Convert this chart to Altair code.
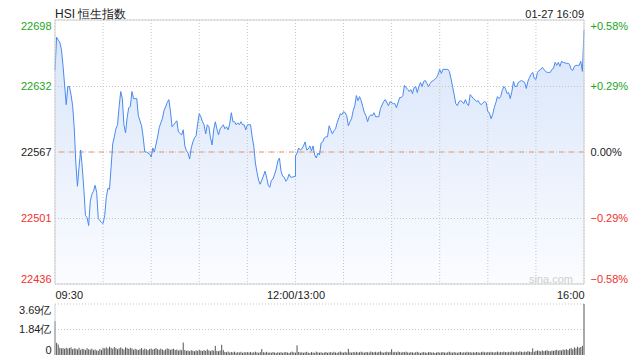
import altair as alt
import pandas as pd

PREV_CLOSE = 22567
Y_TICKS = [22436, 22501, 22567, 22632, 22698]
VOL_TICKS = [0, 1.84, 3.69]
X_GRID = [0, 30, 60, 90, 120, 150, 180, 210, 240, 270, 300, 330]
TITLE = "HSI 恒生指数"
STAMP = "01-27 16:09"
WATERMARK = "sina.com"

AM_TIMES = [
    "09:30", "09:31", "09:32", "09:33", "09:34", "09:35", "09:37", "09:38", "09:39", "09:40",
    "09:41", "09:42", "09:43", "09:44", "09:45", "09:46", "09:47", "09:48", "09:49", "09:50",
    "09:51", "09:52", "09:53", "09:54", "09:55", "09:56", "09:57", "09:58", "09:59", "10:00",
    "10:01", "10:02", "10:03", "10:04", "10:05", "10:06", "10:07", "10:08", "10:09", "10:10",
    "10:11", "10:12", "10:13", "10:14", "10:15", "10:16", "10:17", "10:18", "10:19", "10:20",
    "10:21", "10:22", "10:23", "10:24", "10:25", "10:26", "10:27", "10:29", "10:30", "10:31",
    "10:32", "10:34", "10:35", "10:36", "10:37", "10:38", "10:40", "10:41", "10:42", "10:43",
    "10:44", "10:45", "10:46", "10:47", "10:49", "10:50", "10:51", "10:52", "10:53", "10:54",
    "10:55", "10:56", "10:57", "10:58", "10:59", "11:00", "11:01", "11:02", "11:03", "11:04",
    "11:05", "11:06", "11:07", "11:08", "11:09", "11:10", "11:11", "11:12", "11:13", "11:15",
    "11:16", "11:17", "11:18", "11:19", "11:20", "11:21", "11:22", "11:23", "11:24", "11:25",
    "11:26", "11:27", "11:28", "11:29", "11:30", "11:31", "11:32", "11:33", "11:34", "11:35",
    "11:36", "11:37", "11:38", "11:40", "11:41", "11:42", "11:43", "11:44", "11:45", "11:46",
    "11:47", "11:48", "11:49", "11:50", "11:51", "11:52", "11:53", "11:54", "11:55", "11:56",
    "11:57", "11:58", "12:00",
]
AM_PRICES = [
    22648, 22681, 22678, 22676, 22669, 22653, 22614, 22632, 22632, 22624,
    22613, 22591, 22556, 22533, 22552, 22569, 22552, 22530, 22504, 22502,
    22494, 22518, 22525, 22528, 22534, 22527, 22501, 22499, 22497, 22496,
    22504, 22522, 22531, 22530, 22552, 22575, 22582, 22590, 22594, 22612,
    22627, 22620, 22594, 22586, 22601, 22611, 22612, 22627, 22620, 22620,
    22620, 22603, 22598, 22593, 22582, 22567, 22567, 22565, 22562, 22571,
    22567, 22582, 22591, 22596, 22600, 22608, 22616, 22619, 22608, 22592,
    22594, 22596, 22598, 22587, 22584, 22589, 22573, 22568, 22566, 22560,
    22571, 22577, 22581, 22583, 22595, 22605, 22602, 22597, 22594, 22585,
    22594, 22592, 22581, 22574, 22589, 22597, 22590, 22584, 22590, 22594,
    22590, 22592, 22589, 22595, 22606, 22597, 22597, 22594, 22596, 22594,
    22597, 22594, 22594, 22589, 22594, 22594, 22594, 22582, 22573, 22556,
    22547, 22539, 22535, 22543, 22548, 22542, 22534, 22532, 22539, 22540,
    22545, 22550, 22558, 22561, 22548, 22543, 22542, 22538, 22540, 22545,
    22542, 22542, 22543,
]
PM_TIMES = [
    "13:00", "13:01", "13:02", "13:03", "13:04", "13:05", "13:06", "13:07", "13:08", "13:09",
    "13:10", "13:11", "13:12", "13:13", "13:14", "13:15", "13:16", "13:17", "13:18", "13:19",
    "13:20", "13:21", "13:22", "13:23", "13:24", "13:25", "13:26", "13:28", "13:29", "13:30",
    "13:31", "13:32", "13:33", "13:34", "13:35", "13:36", "13:37", "13:38", "13:39", "13:40",
    "13:41", "13:42", "13:43", "13:44", "13:45", "13:46", "13:47", "13:48", "13:49", "13:50",
    "13:52", "13:53", "13:55", "13:56", "13:58", "13:59", "14:01", "14:02", "14:03", "14:05",
    "14:06", "14:07", "14:08", "14:10", "14:11", "14:12", "14:13", "14:14", "14:15", "14:16",
    "14:17", "14:18", "14:19", "14:20", "14:21", "14:22", "14:23", "14:24", "14:25", "14:26",
    "14:27", "14:28", "14:29", "14:30", "14:31", "14:32", "14:34", "14:35", "14:36", "14:37",
    "14:38", "14:39", "14:40", "14:41", "14:42", "14:43", "14:44", "14:45", "14:46", "14:47",
    "14:48", "14:49", "14:51", "14:52", "14:53", "14:54", "14:55", "14:56", "14:57", "14:58",
    "14:59", "15:00", "15:01", "15:02", "15:03", "15:04", "15:05", "15:06", "15:07", "15:08",
    "15:09", "15:10", "15:11", "15:12", "15:13", "15:14", "15:15", "15:16", "15:17", "15:18",
    "15:19", "15:20", "15:21", "15:23", "15:24", "15:25", "15:26", "15:27", "15:28", "15:29",
    "15:30", "15:31", "15:32", "15:33", "15:34", "15:35", "15:36", "15:37", "15:38", "15:39",
    "15:40", "15:41", "15:42", "15:43", "15:44", "15:45", "15:46", "15:47", "15:49", "15:50",
    "15:51", "15:52", "15:53", "15:54", "15:55", "15:56", "15:57", "15:58", "15:59", "16:00",
]
PM_PRICES = [
    22563, 22566, 22571, 22569, 22570, 22573, 22577, 22569, 22570, 22573,
    22568, 22573, 22564, 22561, 22566, 22564, 22576, 22577, 22581, 22582,
    22582, 22593, 22589, 22585, 22588, 22590, 22596, 22605, 22604, 22607,
    22606, 22603, 22593, 22597, 22600, 22608, 22613, 22623, 22618, 22622,
    22618, 22612, 22606, 22603, 22597, 22602, 22604, 22603, 22606, 22602,
    22602, 22610, 22617, 22619, 22613, 22617, 22615, 22615, 22611, 22621,
    22621, 22623, 22633, 22629, 22627, 22629, 22625, 22631, 22632, 22626,
    22632, 22636, 22632, 22637, 22638, 22635, 22632, 22635, 22637, 22638,
    22639, 22641, 22644, 22649, 22645, 22649, 22649, 22649, 22647, 22640,
    22632, 22624, 22615, 22613, 22617, 22618, 22617, 22615, 22619, 22615,
    22613, 22624, 22620, 22619, 22617, 22618, 22615, 22614, 22616, 22617,
    22616, 22607, 22606, 22600, 22604, 22611, 22616, 22622, 22620, 22622,
    22628, 22632, 22630, 22625, 22626, 22620, 22627, 22637, 22632, 22632,
    22636, 22637, 22638, 22636, 22630, 22637, 22641, 22644, 22646, 22640,
    22639, 22646, 22648, 22649, 22651, 22649, 22647, 22646, 22646, 22646,
    22649, 22650, 22656, 22653, 22656, 22652, 22657, 22656, 22655, 22655,
    22654, 22649, 22648, 22652, 22653, 22653, 22653, 22657, 22647, 22688,
]

# volume in 亿, one value per minute: 09:30..12:00 and 13:01..16:00
AM_VOL = [
    2.45, 0.88, 0.76, 0.52, 0.48, 0.50, 0.45, 0.52, 0.47, 0.50,
    0.55, 0.42, 0.48, 0.46, 0.40, 0.52, 0.38, 0.45, 0.43, 0.36,
    0.50, 0.41, 0.39, 0.46, 0.35, 0.40, 0.33, 0.31, 0.44, 0.36,
    0.52, 0.48, 0.55, 0.47, 0.60, 0.52, 0.45, 0.58, 0.50, 0.42,
    0.48, 0.55, 0.46, 0.40, 0.56, 0.50, 0.44, 0.52, 0.47, 0.38,
    0.45, 0.40, 0.36, 0.42, 0.50, 0.38, 0.46, 0.41, 0.35, 0.43,
    0.47, 0.39, 0.44, 0.50, 0.42, 0.38, 0.46, 0.40, 0.33, 0.41,
    0.48, 0.44, 0.37, 0.42, 0.45, 0.36, 0.40, 0.32, 0.38, 0.35,
    0.90, 0.36, 0.30, 0.33, 0.28, 0.35, 0.31, 0.27, 0.34, 0.30,
    0.38, 0.32, 0.29, 0.36, 0.30, 0.41, 0.33, 0.28, 0.35, 0.31,
    0.66, 0.30, 0.27, 0.33, 0.74, 0.35, 0.22, 0.20, 0.25, 0.18,
    0.22, 0.19, 0.24, 0.17, 0.21, 0.18, 0.23, 0.16, 0.20, 0.19,
    0.21, 0.18, 0.22, 0.17, 0.20, 0.24, 0.19, 0.16, 0.21, 0.43,
    0.20, 0.18, 0.23, 0.17, 0.19, 0.16, 0.22, 0.18, 0.15, 0.20,
    0.17, 0.21, 0.16, 0.19, 0.22, 0.18, 0.15, 0.20, 0.24, 0.19,
    0.17,
]
PM_VOL = [
    0.70, 0.22, 0.18, 0.20, 0.16, 0.19, 0.23, 0.17, 0.15, 0.21,
    0.18, 0.16, 0.24, 0.19, 0.17, 0.20, 0.15, 0.18, 0.22, 0.16,
    0.19, 0.21, 0.17, 0.23, 0.18, 0.16, 0.20, 0.25, 0.19, 0.17,
    0.22, 0.18, 0.44, 0.20, 0.17, 0.21, 0.19, 0.23, 0.18, 0.20,
    0.24, 0.19, 0.17, 0.22, 0.20, 0.18, 0.25, 0.21, 0.19, 0.23,
    0.18, 0.22, 0.26, 0.20, 0.17, 0.21, 0.24, 0.19, 0.22, 0.42,
    0.20, 0.23, 0.19, 0.25, 0.21, 0.18, 0.22, 0.20, 0.24, 0.19,
    0.17, 0.21, 0.19, 0.16, 0.20, 0.23, 0.18, 0.15, 0.19, 0.21,
    0.18, 0.16, 0.20, 0.22, 0.17, 0.19, 0.15, 0.18, 0.21, 0.17,
    0.19, 0.22, 0.18, 0.16, 0.20, 0.24, 0.19, 0.17, 0.21, 0.18,
    0.16, 0.19, 0.22, 0.17, 0.20, 0.18, 0.23, 0.19, 0.21, 0.17,
    0.20, 0.18, 0.22, 0.19, 0.17, 0.21, 0.24, 0.20, 0.18, 0.22,
    0.19, 0.23, 0.20, 0.18, 0.21, 0.25, 0.19, 0.22, 0.20, 0.24,
    0.21, 0.19, 0.23, 0.20, 0.26, 0.22, 0.19, 0.24, 0.21, 0.27,
    0.23, 0.20, 0.25, 0.22, 0.28, 0.24, 0.21, 0.48, 0.23, 0.30,
    0.33, 0.30, 0.26, 0.33, 0.28, 0.31, 0.35, 0.29, 0.27, 0.32,
    0.30, 0.34, 0.38, 0.31, 0.36, 0.33, 0.40, 0.37, 0.42, 0.35,
    0.45, 0.50, 0.41, 0.55, 0.48, 0.60, 0.52, 0.58, 0.66, 3.69,
]


def to_idx(t):
    h, m = map(int, t.split(":"))
    mins = h * 60 + m
    return mins - 570 if mins <= 720 else mins - 780 + 150


def hhmm(mins):
    return f"{mins // 60:02d}:{mins % 60:02d}"


times = AM_TIMES + PM_TIMES
prices = AM_PRICES + PM_PRICES
price_df = pd.DataFrame({
    "time": times,
    "price": prices,
    "idx": [to_idx(t) for t in times],
    "seq": list(range(len(times))),
})
vol_times = [hhmm(570 + i) for i in range(len(AM_VOL))] + [hhmm(781 + i) for i in range(len(PM_VOL))]
vol_df = pd.DataFrame({
    "time": vol_times,
    "vol": AM_VOL + PM_VOL,
    "idx": [to_idx(t) for t in vol_times],
})
xgrid_df = pd.DataFrame({"g": X_GRID})
ygrid_df = pd.DataFrame({"v": Y_TICKS})
vgrid_df = pd.DataFrame({"v": VOL_TICKS[1:]})
prev_df = pd.DataFrame({"prev": [PREV_CLOSE]})
one_df = pd.DataFrame({"t": [TITLE], "s": [STAMP], "w": [WATERMARK]})

FONT = "Liberation Sans"
GREEN = "#1ca51c"
RED = "#f2302c"
BLACK = "#222222"
GRID = "#c4c4c4"
BORDER = "#cfcfcf"
W = 529
PH = 264            # price panel height
VT, VB = 284, 335   # volume panel top / bottom (pixels from plot top)
H = VB

x_scale = alt.Scale(domain=[0, 330], nice=False, zero=False)


def yscale():
    return alt.Scale(domain=[Y_TICKS[0], Y_TICKS[-1]], range=[PH, 0], nice=False, zero=False)


def vscale():
    return alt.Scale(domain=[0, 3.69], range=[VB, VT], nice=False, zero=False)


x_axis = alt.Axis(
    values=[0, 150, 330], offset=PH - H,
    labelExpr="datum.value == 0 ? '09:30' : datum.value == 150 ? '12:00/13:00' : '16:00'",
    labelFlush=True, labelOverlap=False, grid=False, ticks=False, domain=False,
    labelFontSize=11, labelColor=BLACK, labelPadding=5, title=None,
)
lbl_color = {"condition": [{"test": f"datum.value > {PREV_CLOSE + 2}", "value": GREEN},
                           {"test": f"datum.value < {PREV_CLOSE - 2}", "value": RED}],
             "value": BLACK}
y_axis_left = alt.Axis(
    orient="left", values=Y_TICKS, labelExpr="format(datum.value, 'd')", grid=False,
    ticks=False, domain=False, labelFlush=True, labelPadding=4, labelFontSize=11,
    title=None, labelColor=lbl_color,
)
y_axis_right = alt.Axis(
    orient="right", values=Y_TICKS,
    labelExpr=f"(datum.value > {PREV_CLOSE + 2} ? '+' : '') + format((datum.value - {PREV_CLOSE}) / {PREV_CLOSE} * 100, '.2f') + '%'",
    grid=False, ticks=False, domain=False, labelFlush=True, labelPadding=6,
    labelFontSize=11, title=None, labelColor=lbl_color,
)
v_axis = alt.Axis(
    orient="left", values=VOL_TICKS,
    labelExpr="datum.value == 0 ? '0' : format(datum.value, '.2f') + '亿'",
    grid=False, ticks=False, domain=False, labelFlush=True, labelPadding=4,
    labelFontSize=11, title=None, labelColor=BLACK,
)


def X(f):
    return alt.X(f, scale=x_scale, axis=x_axis)


area = alt.Chart(price_df).mark_area(
    color=alt.Gradient(
        gradient="linear",
        stops=[alt.GradientStop(color="#d8e5fa", offset=0),
               alt.GradientStop(color="#fbfcff", offset=1)],
        x1=1, x2=1, y1=0, y2=1,
    )
).encode(
    x=X("idx:Q"),
    y=alt.Y("price:Q", scale=yscale(), axis=y_axis_left),
    y2=alt.datum(Y_TICKS[0]),
)
xgrid = alt.Chart(xgrid_df).mark_rule(color=GRID, strokeDash=[1, 2]).encode(
    x=X("g:Q"), y=alt.value(0), y2=alt.value(PH)
)
ygrid = alt.Chart(ygrid_df).mark_rule(color=GRID, strokeDash=[1, 2]).encode(
    y=alt.Y("v:Q", scale=yscale(), axis=None)
)
prev_rule = alt.Chart(prev_df).mark_rule(color="#ea9a70", strokeDash=[5, 5]).encode(
    y=alt.Y("prev:Q", scale=yscale(), axis=None)
)
line = alt.Chart(price_df).mark_line(color="#4a8af0", strokeWidth=1).encode(
    x=X("idx:Q"), y=alt.Y("price:Q", scale=yscale(), axis=None), order="seq:Q"
)
right_axis_layer = alt.Chart(price_df).mark_line(strokeOpacity=0).encode(
    x=X("idx:Q"), y=alt.Y("price:Q", scale=yscale(), axis=y_axis_right)
)
vgrid = alt.Chart(vgrid_df).mark_rule(color=GRID, strokeDash=[1, 2]).encode(
    y=alt.Y("v:Q", scale=vscale(), axis=None)
)
vbars = alt.Chart(vol_df).mark_rule(color="#555555", strokeWidth=1).encode(
    x=X("idx:Q"),
    y=alt.Y("vol:Q", scale=vscale(), axis=v_axis),
    y2=alt.datum(0),
)
frame = alt.Chart(one_df).mark_rect(filled=False, stroke=BORDER, strokeWidth=1).encode(
    x=alt.value(0), x2=alt.value(W), y=alt.value(0), y2=alt.value(PH)
)
vol_edge = alt.Chart(one_df).mark_rule(color=BORDER).encode(
    x=alt.value(0), y=alt.value(VT), y2=alt.value(VB)
)
title_txt = alt.Chart(one_df).mark_text(
    align="left", baseline="alphabetic", fontSize=12, font=FONT, color=BLACK
).encode(x=alt.value(0), y=alt.value(-2), text="t:N")
stamp_txt = alt.Chart(one_df).mark_text(
    align="right", baseline="alphabetic", fontSize=11, font=FONT, color=BLACK
).encode(x=alt.value(W), y=alt.value(-2), text="s:N")
wm_txt = alt.Chart(one_df).mark_text(
    align="right", baseline="alphabetic", fontSize=11, font=FONT, color="#cfcfcf"
).encode(x=alt.value(W - 11), y=alt.value(PH - 1), text="w:N")

chart = alt.layer(
    area, xgrid, ygrid, prev_rule, line, right_axis_layer, vgrid, vbars,
    frame, vol_edge, title_txt, stamp_txt, wm_txt,
).resolve_scale(y="independent").properties(
    width=W, height=H,
    autosize=alt.AutoSizeParams(type="none"),
    padding={"left": 47, "top": 12, "right": 48, "bottom": 4},
).configure_view(stroke="transparent").configure_axis(labelFont=FONT)

chart.save("out.html", embed_options={"renderer": "svg", "actions": False})
